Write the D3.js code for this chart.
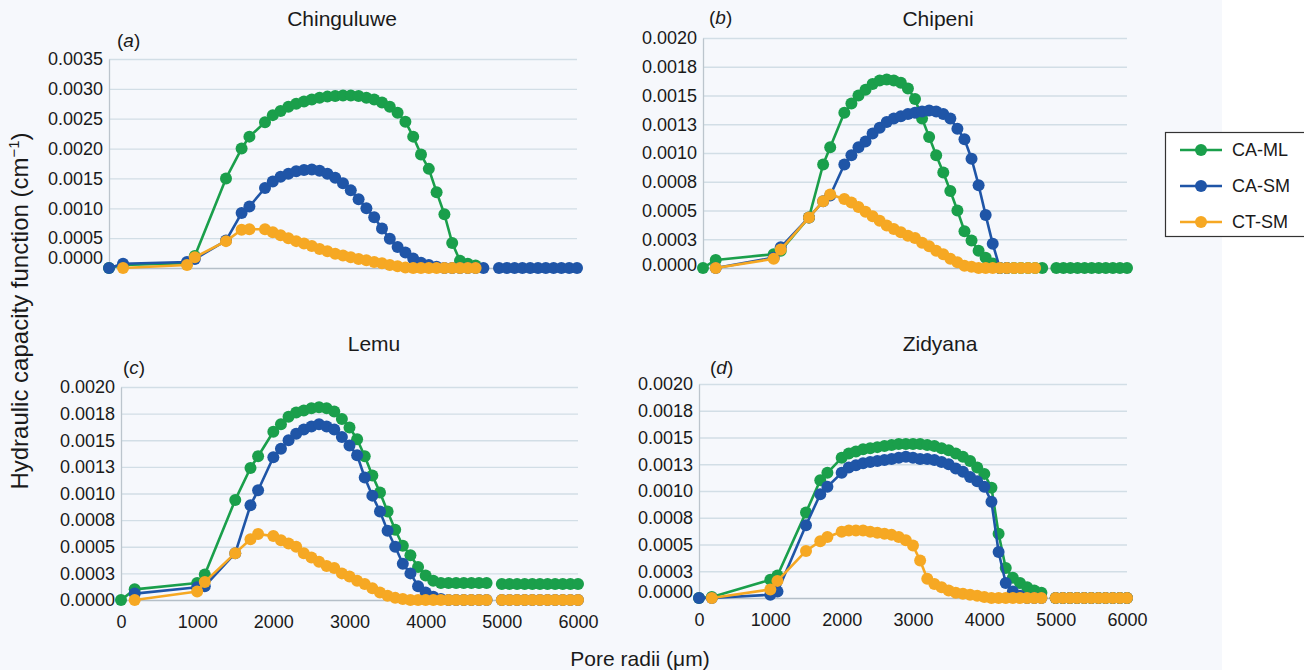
<!DOCTYPE html>
<html><head><meta charset="utf-8">
<script src="https://cdn.jsdelivr.net/npm/d3@7"></script>
<style>
html,body{margin:0;padding:0;background:#fff;}
svg{display:block;font-family:"Liberation Sans",Arial,Helvetica,sans-serif;}
</style></head>
<body>
<svg id="chart" width="1304" height="670"></svg>
<script>
// ---------- DATA ----------
const poreRadii = [0,180,1000,1100,1500,1700,1800,2000,2100,2200,2300,2400,2500,2600,2700,2800,2900,3000,3100,3200,3300,3400,3500,3600,3700,3800,3900,4000,4100,4200,4300,4400,4500,4600,4700,4800,4900,5000,5100,5200,5300,5400,5500,5600,5700,5800,5900,6000];

const seriesNames = ["CA-ML","CA-SM","CT-SM"];
const siteNames = ["Chinguluwe","Chipeni","Lemu","Zidyana"];
const panelLetters = ["a","b","c","d"];

const chinguluweCAML = [0,0.00005,0.00008,0.0002,0.0015,0.002,0.0022,0.00244,0.00256,0.00263,0.0027,0.00275,0.00279,0.00282,0.00285,0.00287,0.00288,0.00289,0.00289,0.00288,0.00285,0.00282,0.00277,0.0027,0.0026,0.00245,0.0022,0.0019,0.00166,0.00127,0.0009,0.00042,0.00012,0.00007,0.00004,null,null,null,null,null,null,null,null,null,null,null,null,null];
const chinguluweCASM = [0,0.00007,0.0001,0.00015,0.00046,0.00092,0.00103,0.00134,0.00145,0.00153,0.00158,0.00162,0.00164,0.00165,0.00163,0.00158,0.00151,0.00142,0.0013,0.00115,0.001,0.00085,0.00066,0.00049,0.00035,0.00026,0.00016,0.00009,0.00005,0.00002,0,0,0,0,0,0,null,0,0,0,0,0,0,0,0,0,0,0];
const chinguluweCTSM = [null,0,0.00005,0.00018,0.00045,0.00064,0.00065,0.00065,0.0006,0.00055,0.0005,0.00045,0.00041,0.00037,0.00032,0.00028,0.00024,0.00021,0.00018,0.00015,0.00013,0.0001,0.00008,0.00005,0.00003,0.00001,0,0,0,0,0,0,0,0,0,null,null,null,null,null,null,null,null,null,null,null,null,null];

const chipeniCAML = [0,0.00007,0.00012,0.00015,0.00044,0.0009,0.00105,0.00135,0.00143,0.0015,0.00155,0.0016,0.00163,0.00164,0.00163,0.00161,0.00156,0.00147,0.0013,0.00114,0.00098,0.00083,0.00067,0.0005,0.00032,0.00024,0.00015,0.00009,0.00004,0,0,0,0,0,0,0,null,0,0,0,0,0,0,0,0,0,0,0];
const chipeniCASM = [null,0,0.00009,0.00018,0.00044,0.00058,0.00063,0.0009,0.00098,0.00105,0.0011,0.00117,0.00122,0.00127,0.0013,0.00132,0.00134,0.00135,0.00136,0.00137,0.00136,0.00134,0.0013,0.00121,0.00112,0.00095,0.00072,0.00046,0.00021,0,0,null,null,null,null,null,null,null,null,null,null,null,null,null,null,null,null,null];
const chipeniCTSM = [null,0,0.00008,0.00016,0.00044,0.00058,0.00064,0.0006,0.00057,0.00053,0.00049,0.00045,0.00041,0.00037,0.00034,0.00031,0.00028,0.00026,0.00022,0.00019,0.00015,0.00012,0.00008,0.00005,0.00002,0.00001,0,0,0,0,0,0,0,0,0,null,null,null,null,null,null,null,null,null,null,null,null,null];

const lemuCAML = [0,0.0001,0.00016,0.00024,0.00094,0.00124,0.00135,0.00158,0.00165,0.00172,0.00176,0.00178,0.0018,0.00181,0.0018,0.00177,0.0017,0.00162,0.00151,0.00135,0.00117,0.00101,0.00083,0.00066,0.00051,0.00042,0.00031,0.00023,0.00018,0.00016,0.00016,0.00016,0.00016,0.00016,0.00016,0.00016,null,0.00015,0.00015,0.00015,0.00015,0.00015,0.00015,0.00015,0.00015,0.00015,0.00015,0.00015];
const lemuCASM = [null,0.00006,0.00012,0.00013,0.00044,0.00089,0.00103,0.00134,0.00142,0.0015,0.00156,0.0016,0.00163,0.00165,0.00163,0.0016,0.00153,0.00145,0.00136,0.00115,0.00098,0.00083,0.00065,0.0005,0.00034,0.00025,0.00013,0.00007,0.00003,0.00001,0,0,0,0,0,0,null,0,0,0,0,0,0,0,0,0,0,0];
const lemuCTSM = [null,0,0.00008,0.00017,0.00044,0.00057,0.00062,0.0006,0.00056,0.00053,0.0005,0.00044,0.0004,0.00036,0.00032,0.0003,0.00025,0.00022,0.00018,0.00015,0.00011,0.00007,0.00004,0.00002,0.00001,0,0,0,0,0,0,0,0,0,0,0,null,0,0,0,0,0,0,0,0,0,0,0];

const zidyanaCAML = [0,0.00001,0.00017,0.00021,0.0008,0.0011,0.00117,0.00131,0.00135,0.00137,0.00139,0.0014,0.00141,0.00142,0.00143,0.00144,0.00144,0.00144,0.00144,0.00143,0.00142,0.0014,0.00138,0.00135,0.00132,0.00128,0.00122,0.00116,0.00103,0.0006,0.00028,0.00019,0.00014,0.0001,0.00007,0.00005,null,0,0,0,0,0,0,0,0,0,0,0];
const zidyanaCASM = [0,0,0.00003,0.00006,0.00068,0.00097,0.00104,0.00117,0.00122,0.00124,0.00126,0.00127,0.00128,0.00129,0.0013,0.00131,0.00132,0.00131,0.0013,0.0013,0.00129,0.00127,0.00125,0.00121,0.00118,0.00113,0.00109,0.00104,0.0009,0.00043,0.00014,0.00006,0.00002,0,0,0,null,0,0,0,0,0,0,0,0,0,0,0];
const zidyanaCTSM = [null,0,0.00008,0.00016,0.00044,0.00053,0.00057,0.00062,0.00063,0.00063,0.00063,0.00062,0.00061,0.0006,0.00059,0.00057,0.00054,0.00049,0.00035,0.00018,0.00013,0.0001,0.00007,0.00005,0.00004,0.00003,0.00002,0.00001,0,0,0,0,0,0,0,0,null,0,0,0,0,0,0,0,0,0,0,0];

const xTickValues = [0,1000,2000,3000,4000,5000,6000];
const xTickLabels = ["0","1000","2000","3000","4000","5000","6000"];
const yTicksA = [0,0.0005,0.001,0.0015,0.002,0.0025,0.003,0.0035];
const yLabelsA = ["0.0000","0.0005","0.0010","0.0015","0.0020","0.0025","0.0030","0.0035"];
const yTicksB = [0,0.00025,0.0005,0.00075,0.001,0.00125,0.0015,0.00175,0.002];
const yLabelsB = ["0.0000","0.0003","0.0005","0.0008","0.0010","0.0013","0.0015","0.0018","0.0020"];

// ---------- LAYOUT / STYLE ----------
const colors = ["#1a9f4b","#1f55a7","#f6a823"];
const panelData = [
  [chinguluweCAML, chinguluweCASM, chinguluweCTSM],
  [chipeniCAML, chipeniCASM, chipeniCTSM],
  [lemuCAML, lemuCASM, lemuCTSM],
  [zidyanaCAML, zidyanaCASM, zidyanaCTSM]
];
const layout = [
  {x0:109,x1:577,yTop:59,yZero:268,ymax:0.0035,ticks:yTicksA,labels:yLabelsA,tx:342,ty:26,lx:117,ly:47,zeroShift:-10,xAxis:false},
  {x0:703,x1:1127,yTop:38,yZero:268,ymax:0.002,ticks:yTicksB,labels:yLabelsB,tx:938,ty:26,lx:709,ly:24,zeroShift:-3,xAxis:false},
  {x0:121,x1:578,yTop:387,yZero:600,ymax:0.002,ticks:yTicksB,labels:yLabelsB,tx:374,ty:351,lx:123,ly:374,zeroShift:0,xAxis:true},
  {x0:699,x1:1127,yTop:384,yZero:598,ymax:0.002,ticks:yTicksB,labels:yLabelsB,tx:940,ty:351,lx:710,ly:374,zeroShift:-6,xAxis:true}
];

const svg = d3.select("#chart");
svg.append("rect").attr("x",0).attr("y",0).attr("width",1222).attr("height",670).attr("fill","#f6f8fc");

layout.forEach((L,pi)=>{
  const x = d3.scaleLinear().domain([0,6000]).range([L.x0,L.x1]);
  const y = d3.scaleLinear().domain([0,L.ymax]).range([L.yZero,L.yTop]);
  const g = svg.append("g");

  const grid = g.append("g").attr("transform",`translate(${L.x0},0)`)
    .call(d3.axisLeft(y).tickValues(L.ticks).tickSize(-(L.x1-L.x0)).tickFormat(""));
  grid.select(".domain").remove();
  grid.selectAll("line").attr("stroke","#d2dee6").attr("stroke-width",1.3);
  grid.selectAll(".tick").filter(d=>d===0).select("line").attr("stroke","#b5bfc8");

  const ya = g.append("g").attr("transform",`translate(${L.x0},0)`)
    .call(d3.axisLeft(y).tickValues(L.ticks).tickSize(0).tickPadding(6).tickFormat((d,i)=>L.labels[i]));
  ya.select(".domain").attr("stroke","#bcc5cd").attr("stroke-width",1.3);
  ya.selectAll("text").attr("font-size",18).attr("fill","#1a1a1a").attr("font-family",null);
  ya.selectAll(".tick").filter(d=>d===0).select("text").attr("y",L.zeroShift);

  if(L.xAxis){
    const xa = g.append("g").attr("transform",`translate(0,${L.yZero})`)
      .call(d3.axisBottom(x).tickValues(xTickValues).tickSize(0).tickPadding(15).tickFormat((d,i)=>xTickLabels[i]));
    xa.select(".domain").remove();
    xa.selectAll("text").attr("font-size",18).attr("fill","#1a1a1a").attr("font-family",null);
  }

  panelData[pi].forEach((vals,si)=>{
    const pts = poreRadii.map((r,i)=>({r, v: vals[i]}));
    const line = d3.line().defined(d=>d.v!==null).x(d=>x(d.r)).y(d=>y(d.v));
    g.append("path").datum(pts).attr("d",line).attr("fill","none")
      .attr("stroke",colors[si]).attr("stroke-width",2.6).attr("stroke-linejoin","round");
    g.append("g").selectAll("circle").data(pts.filter(d=>d.v!==null)).join("circle")
      .attr("cx",d=>x(d.r)).attr("cy",d=>y(d.v)).attr("r",6).attr("fill",colors[si]);
  });

  svg.append("text").attr("x",L.tx).attr("y",L.ty).attr("text-anchor","middle")
    .attr("font-size",21).attr("fill","#1a1a1a").text(siteNames[pi]);
  const lab = svg.append("text").attr("x",L.lx).attr("y",L.ly).attr("font-size",19).attr("fill","#1a1a1a");
  lab.append("tspan").text("(");
  lab.append("tspan").attr("font-style","italic").text(panelLetters[pi]);
  lab.append("tspan").text(")");
});

const yt = svg.append("text").attr("transform","translate(28,311) rotate(-90)")
  .attr("text-anchor","middle").attr("font-size",24).attr("fill","#1a1a1a");
yt.append("tspan").text("Hydraulic capacity function (cm");
yt.append("tspan").attr("font-size",15).attr("dy",-9).text("\u22121");
yt.append("tspan").attr("dy",9).text(")");

svg.append("text").attr("x",640).attr("y",666).attr("text-anchor","middle")
  .attr("font-size",21).attr("fill","#1a1a1a").text("Pore radii (\u03bcm)");

const lg = svg.append("g");
lg.append("rect").attr("x",1165.5).attr("y",132.5).attr("width",140).attr("height",104)
  .attr("fill","#fff").attr("stroke","#333").attr("stroke-width",1.2);
seriesNames.forEach((n,i)=>{
  const yy = 150 + i*36;
  lg.append("line").attr("x1",1180).attr("x2",1222).attr("y1",yy).attr("y2",yy)
    .attr("stroke",colors[i]).attr("stroke-width",2.6);
  lg.append("circle").attr("cx",1201).attr("cy",yy).attr("r",6).attr("fill",colors[i]);
  lg.append("text").attr("x",1232).attr("y",yy).attr("dy","0.35em").attr("font-size",18)
    .attr("fill","#1a1a1a").text(n);
});
</script>
</body></html>
